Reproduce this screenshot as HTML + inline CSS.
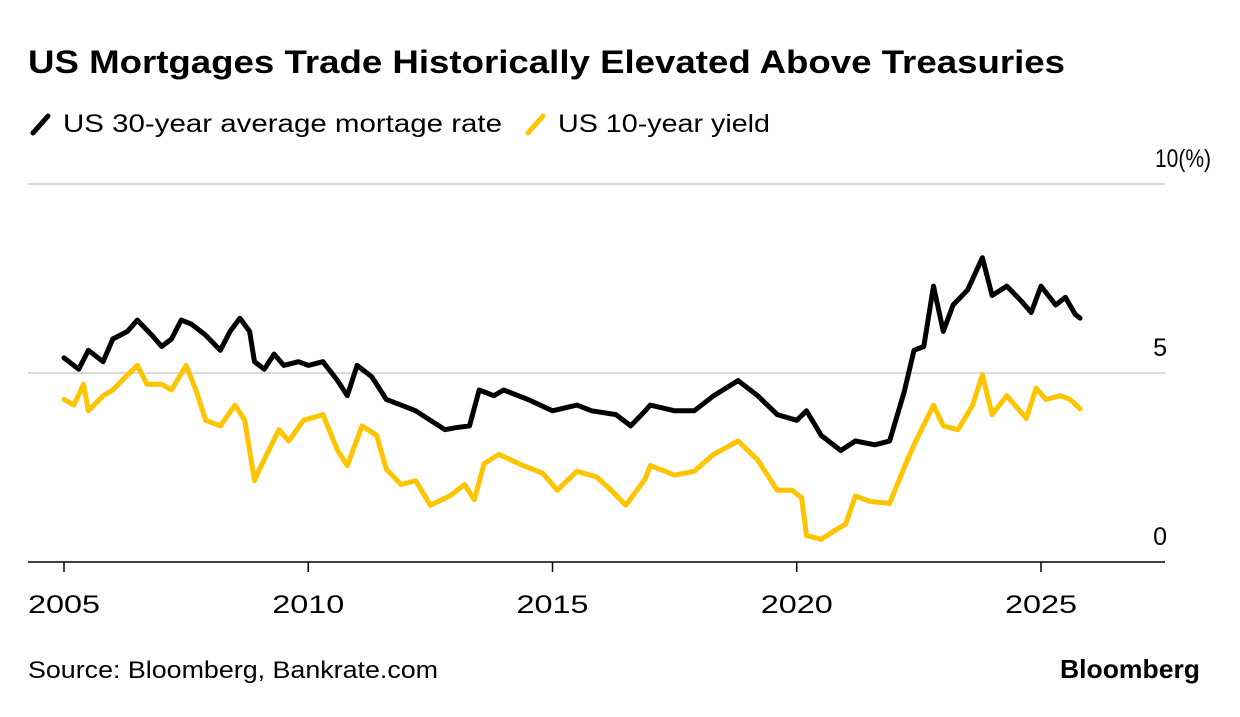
<!DOCTYPE html>
<html><head><meta charset="utf-8"><style>
body{margin:0;background:#fff;width:1240px;height:712px;overflow:hidden;font-family:"Liberation Sans",sans-serif;}
</style></head><body>
<svg width="1240" height="712">
<text x="28" y="73" font-size="32" font-weight="bold" fill="#000" textLength="1037" lengthAdjust="spacingAndGlyphs">US Mortgages Trade Historically Elevated Above Treasuries</text>
<g><line x1="33" y1="133" x2="48" y2="116" stroke="#000" stroke-width="5" stroke-linecap="round"/><text x="63" y="132" font-size="25" textLength="439" lengthAdjust="spacingAndGlyphs">US 30-year average mortage rate</text></g>
<g><line x1="528" y1="133" x2="543" y2="116" stroke="#ffc400" stroke-width="5" stroke-linecap="round"/><text x="558" y="132" font-size="25" textLength="212" lengthAdjust="spacingAndGlyphs">US 10-year yield</text></g>
<g id="grid"></g><g id="lines"></g><g id="xt"></g>
<text x="28" y="678" font-size="24" textLength="410" lengthAdjust="spacingAndGlyphs">Source: Bloomberg, Bankrate.com</text>
<text x="1060" y="678" font-size="26" font-weight="bold" textLength="140" lengthAdjust="spacingAndGlyphs">Bloomberg</text>
</svg>
<script>
const mortYears=[2005.0,2005.3,2005.5,2005.8,2006.0,2006.3,2006.5,2006.8,2007.0,2007.2,2007.4,2007.6,2007.9,2008.2,2008.4,2008.6,2008.8,2008.9,2009.1,2009.3,2009.5,2009.8,2010.0,2010.3,2010.6,2010.8,2011.0,2011.3,2011.6,2011.9,2012.2,2012.5,2012.8,2013.0,2013.3,2013.5,2013.8,2014.0,2014.5,2015.0,2015.5,2015.8,2016.3,2016.6,2016.9,2017.0,2017.5,2017.9,2018.3,2018.8,2019.2,2019.6,2020.0,2020.2,2020.5,2020.9,2021.2,2021.6,2021.9,2022.2,2022.4,2022.6,2022.8,2023.0,2023.2,2023.5,2023.8,2024.0,2024.3,2024.6,2024.8,2025.0,2025.3,2025.5,2025.7,2025.8];
const mortVals=[5.4,5.1,5.6,5.3,5.9,6.1,6.4,6.0,5.7,5.9,6.4,6.3,6.0,5.6,6.1,6.45,6.1,5.3,5.1,5.5,5.2,5.3,5.2,5.3,4.8,4.4,5.2,4.9,4.3,4.15,4.0,3.75,3.5,3.55,3.6,4.55,4.4,4.55,4.3,4.0,4.15,4.0,3.9,3.6,4.0,4.15,4.0,4.0,4.4,4.8,4.4,3.9,3.75,4.0,3.35,2.95,3.2,3.1,3.2,4.5,5.6,5.7,7.3,6.1,6.8,7.2,8.05,7.05,7.3,6.9,6.6,7.3,6.8,7.0,6.55,6.45];
const tsyYears=[2005.0,2005.2,2005.4,2005.5,2005.8,2006.0,2006.3,2006.5,2006.7,2007.0,2007.2,2007.5,2007.7,2007.9,2008.2,2008.5,2008.7,2008.9,2009.0,2009.4,2009.6,2009.9,2010.3,2010.6,2010.8,2011.1,2011.4,2011.6,2011.9,2012.2,2012.5,2012.9,2013.2,2013.4,2013.6,2013.9,2014.4,2014.8,2015.1,2015.5,2015.9,2016.2,2016.5,2016.9,2017.0,2017.5,2017.9,2018.3,2018.8,2019.2,2019.6,2019.9,2020.1,2020.2,2020.5,2020.8,2021.0,2021.2,2021.5,2021.9,2022.2,2022.4,2022.8,2023.0,2023.3,2023.6,2023.8,2024.0,2024.3,2024.7,2024.9,2025.1,2025.4,2025.6,2025.8];
const tsyVals=[4.3,4.15,4.7,4.0,4.4,4.55,4.95,5.2,4.7,4.7,4.55,5.2,4.55,3.75,3.6,4.15,3.75,2.15,2.45,3.5,3.2,3.75,3.9,2.95,2.55,3.6,3.35,2.45,2.05,2.15,1.5,1.75,2.05,1.65,2.6,2.85,2.55,2.35,1.9,2.4,2.25,1.9,1.5,2.2,2.55,2.3,2.4,2.85,3.2,2.7,1.9,1.9,1.7,0.7,0.6,0.85,1.0,1.75,1.6,1.55,2.5,3.1,4.15,3.6,3.5,4.15,4.95,3.9,4.4,3.8,4.6,4.3,4.4,4.3,4.05];
const yTicks=[0,5,10];
const xTicks=[2005,2010,2015,2020,2025];
const NS="http://www.w3.org/2000/svg";
const X=y=>64+(y-2005)*48.85;
const Y=v=>562-v*37.8;
function mk(t,a,p){const e=document.createElementNS(NS,t);for(const k in a)e.setAttribute(k,a[k]);p.appendChild(e);return e;}
const grid=document.getElementById('grid');
yTicks.forEach(v=>{
  if(v>0){const l=mk('line',{x1:28,x2:1165,y1:Y(v),y2:Y(v),stroke:'#d9d9d9','stroke-width':2},grid);
  
  }
  const t=mk('text',{x:1167,y:Y(v)-17,'font-size':25,'text-anchor':'end'},grid);
  t.textContent=v==10?'10(%)':String(v);
  if(v==10){t.setAttribute('x',1211);t.setAttribute('textLength',56);t.setAttribute('lengthAdjust','spacingAndGlyphs');}
  
  
});
const ax=mk('line',{x1:28,x2:1165,y1:562,y2:562,stroke:'#000','stroke-width':1.5},grid);


const xt=document.getElementById('xt');
xTicks.forEach(v=>{
  const l=mk('line',{x1:X(v),x2:X(v),y1:562,y2:572,stroke:'#000','stroke-width':1.5},xt);
  
  
  const t=mk('text',{x:X(v)-36,y:613,'font-size':25,textLength:72,lengthAdjust:'spacingAndGlyphs'},xt);
  t.textContent=v;
  
  
});
const lines=document.getElementById('lines');
function path(xs,vs,c,n){
  const d=xs.map((x,i)=>(i?'L':'M')+X(x).toFixed(1)+','+Y(vs[i]).toFixed(1)).join('');
  const p=mk('path',{d:d,fill:'none',stroke:c,'stroke-width':5,'stroke-linejoin':'round','stroke-linecap':'round'},lines);
  
  
}
path(tsyYears,tsyVals,'#ffc400','treasury-yield-line');
path(mortYears,mortVals,'#000','mortgage-rate-line');
</script>
</body></html>
